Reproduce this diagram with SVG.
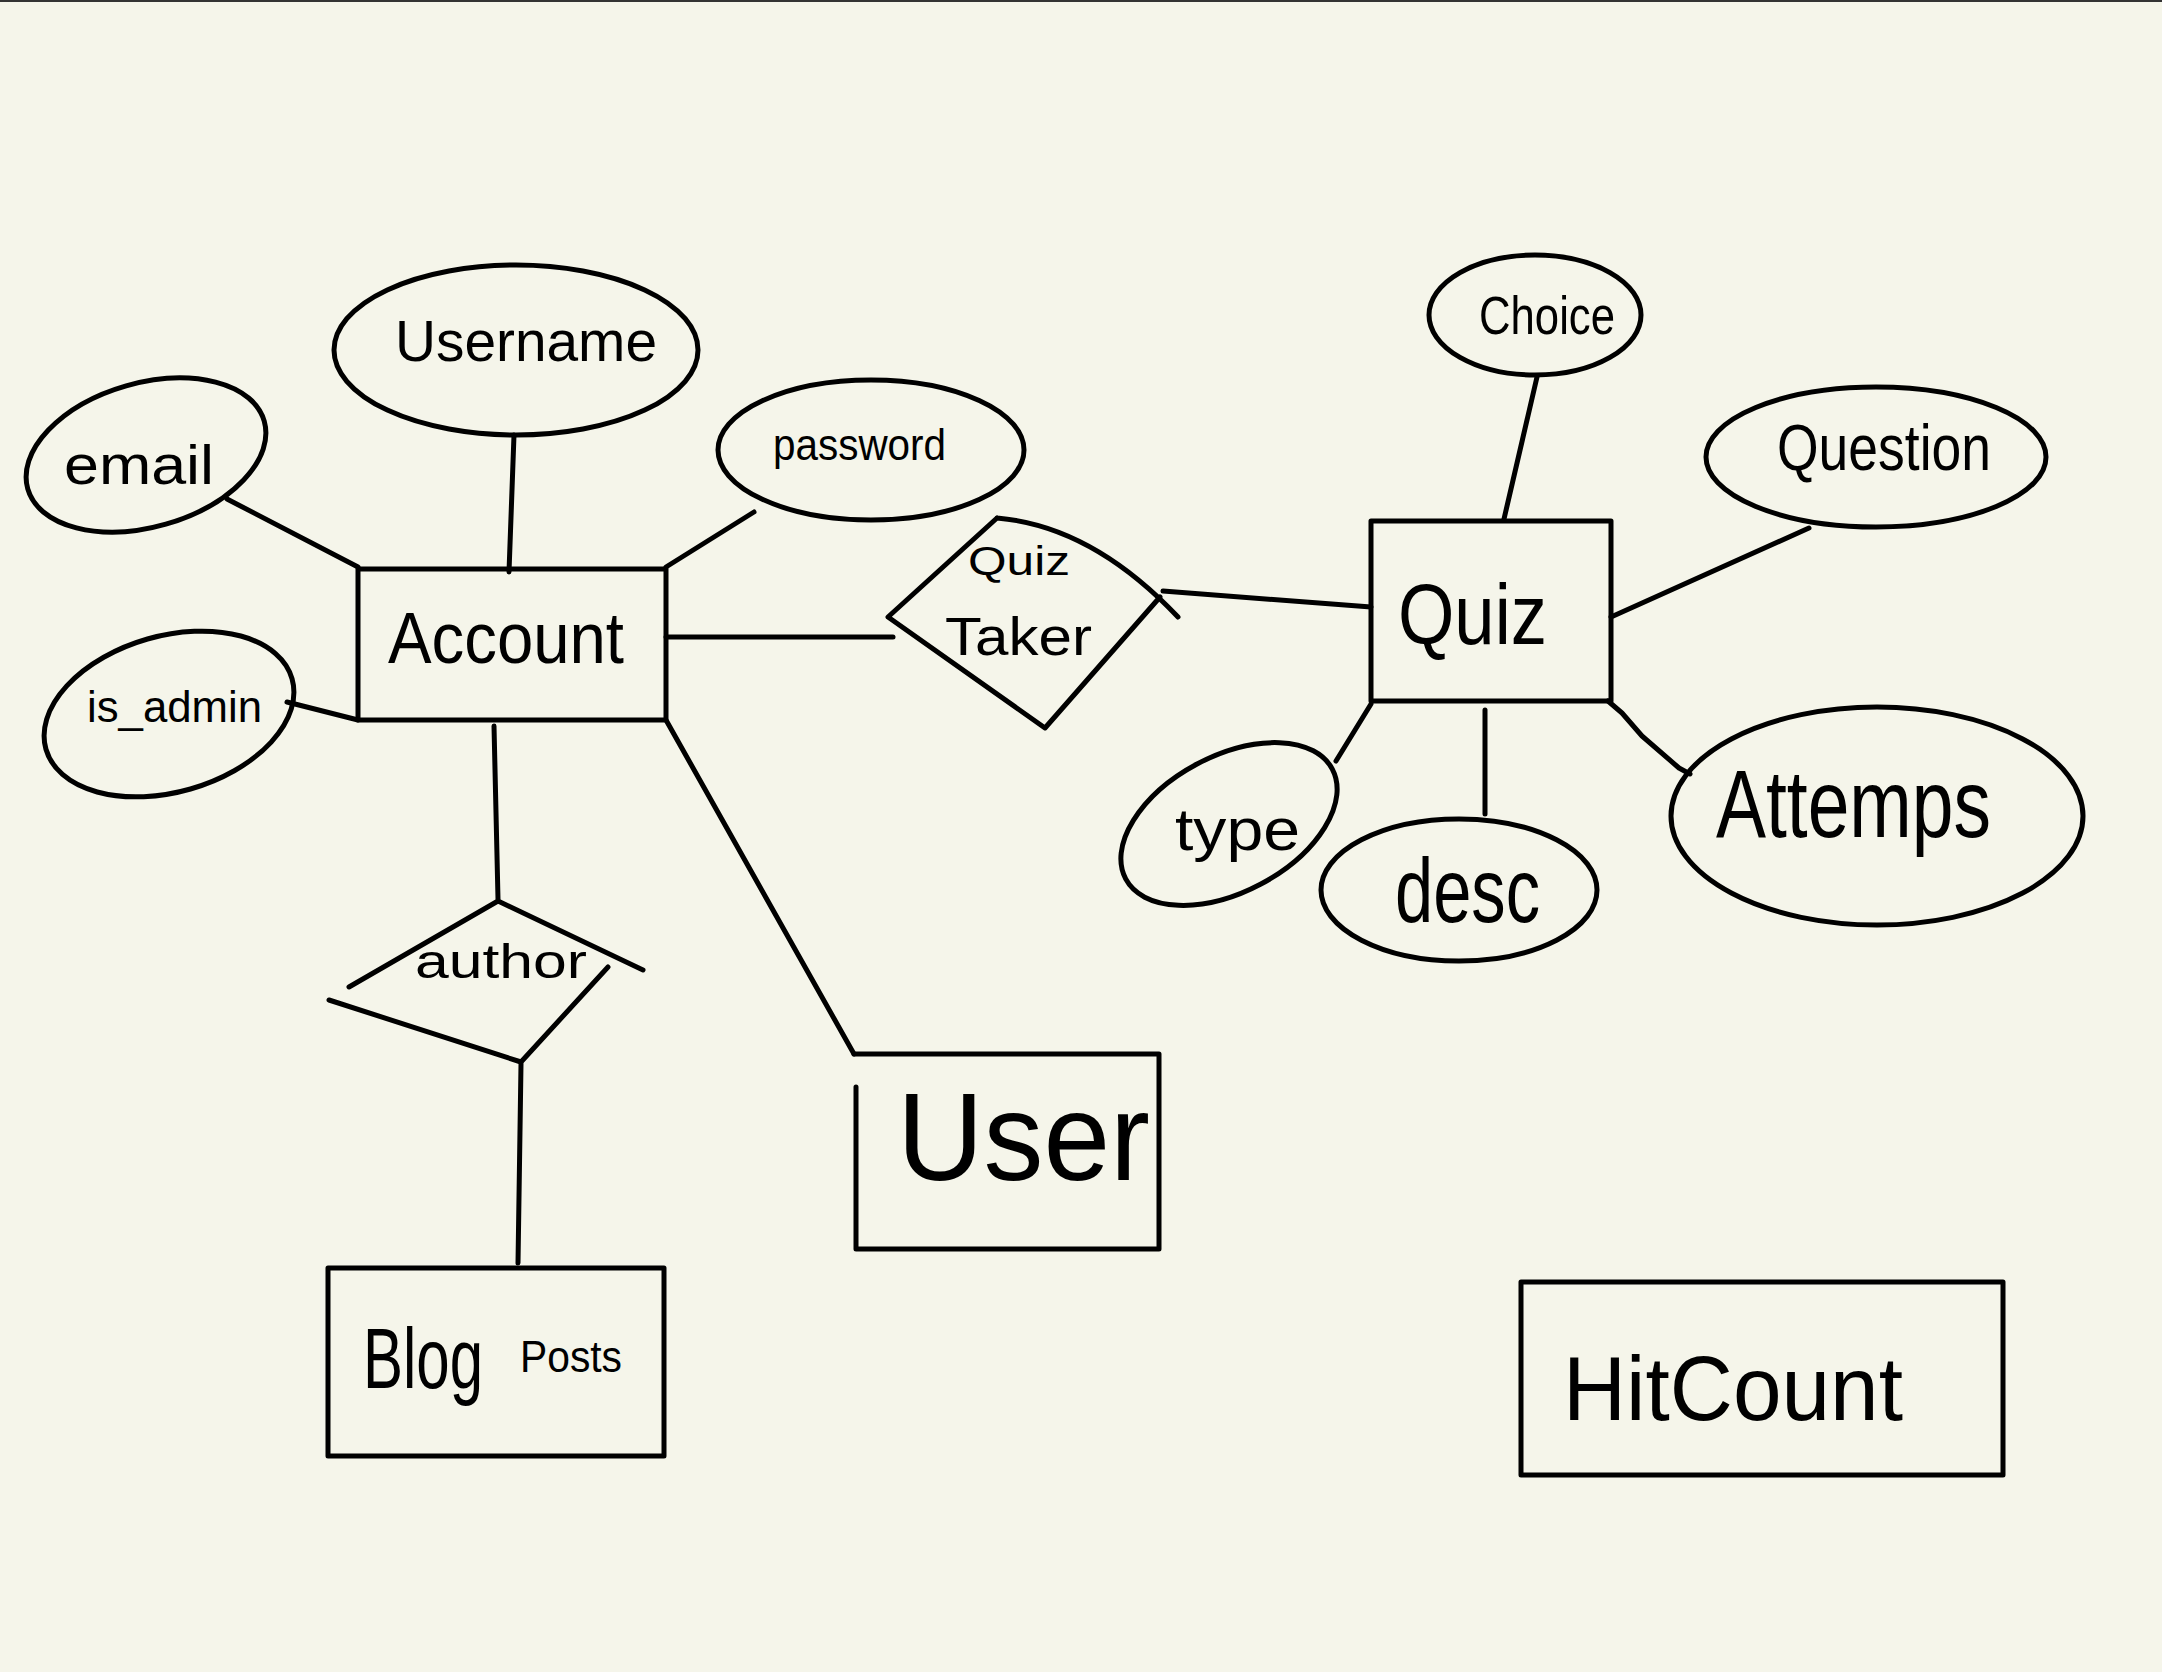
<svg xmlns="http://www.w3.org/2000/svg" width="2162" height="1672" viewBox="0 0 2162 1672">
<style>
.s{fill:none;stroke:#000;stroke-width:5;stroke-linecap:round;stroke-linejoin:round}
.t{font-family:"Liberation Sans","DejaVu Sans",sans-serif;fill:#000}
</style>
<rect x="0" y="0" width="2162" height="1672" fill="#F5F5EA"/>
<line x1="0" y1="1" x2="2162" y2="1" stroke="#333" stroke-width="2"/>
<g id="connectors">
<path class="s" d="M227,499 L358,567"/>
<path class="s" d="M514,435 L509,572"/>
<path class="s" d="M666,567 L754,512"/>
<path class="s" d="M287,702 L358,720"/>
<path class="s" d="M666,637 L893,637"/>
<path class="s" d="M494,726 L498,899"/>
<path class="s" d="M521,1064 L518,1263"/>
<path class="s" d="M666,720 L854,1054"/>
<path class="s" d="M1163,591 L1371,607"/>
<path class="s" d="M1537,377 L1504,519"/>
<path class="s" d="M1809,528 L1611,617"/>
<path class="s" d="M1371,704 L1336,761"/>
<path class="s" d="M1485,710 L1485,814"/>
<path class="s" d="M1608,701 L1622,713 L1642,736 L1679,768 L1690,774"/>
</g>
<g id="account"><rect class="s" x="358" y="569" width="308" height="151"/><text class="t" x="388" y="663" font-size="72" textLength="236" lengthAdjust="spacingAndGlyphs">Account</text></g>
<g id="username"><ellipse class="s" cx="516" cy="350" rx="182" ry="85"/><text class="t" x="395" y="361" font-size="58" textLength="262" lengthAdjust="spacingAndGlyphs">Username</text></g>
<g id="email"><ellipse class="s" cx="146" cy="455" rx="123" ry="72" transform="rotate(-16 146 455)"/><text class="t" x="64" y="484" font-size="56" textLength="150" lengthAdjust="spacingAndGlyphs">email</text></g>
<g id="password"><ellipse class="s" cx="871" cy="450" rx="153" ry="70"/><text class="t" x="773" y="460" font-size="44" textLength="173" lengthAdjust="spacingAndGlyphs">password</text></g>
<g id="is_admin"><ellipse class="s" cx="169" cy="714" rx="128" ry="78" transform="rotate(-16 169 714)"/><text class="t" x="87" y="722" font-size="44" textLength="175" lengthAdjust="spacingAndGlyphs">is_admin</text></g>
<g id="quiz_taker"><path class="s" d="M997,518 Q1092,526 1178,617 M997,518 L888,617 L1045,728 L1160,597"/><text class="t" x="968" y="575" font-size="40" textLength="102" lengthAdjust="spacingAndGlyphs">Quiz</text><text class="t" x="945" y="655" font-size="54" textLength="147" lengthAdjust="spacingAndGlyphs">Taker</text></g>
<g id="author"><path class="s" d="M498,901 L349,987 M498,901 L643,970 M329,1000 L521,1062 L608,967"/><text class="t" x="415" y="978" font-size="48" textLength="172" lengthAdjust="spacingAndGlyphs">author</text></g>
<g id="blog_posts"><rect class="s" x="328" y="1268" width="336" height="188"/><text class="t" x="363" y="1388" font-size="74" textLength="120" lengthAdjust="spacingAndGlyphs" transform="matrix(1,0,0,1.15,0,-208.2)">Blog</text><text class="t" x="520" y="1372" font-size="44" textLength="102" lengthAdjust="spacingAndGlyphs">Posts</text></g>
<g id="user"><path class="s" d="M854,1054 L1159,1054 L1159,1249 L856,1249 L856,1087"/><text class="t" x="897" y="1180" font-size="125" textLength="253" lengthAdjust="spacingAndGlyphs">User</text></g>
<g id="quiz"><rect class="s" x="1371" y="521" width="240" height="180"/><text class="t" x="1398" y="644" font-size="86" textLength="149" lengthAdjust="spacingAndGlyphs">Quiz</text></g>
<g id="choice"><ellipse class="s" cx="1535" cy="315" rx="106" ry="60"/><text class="t" x="1479" y="334" font-size="54" textLength="136" lengthAdjust="spacingAndGlyphs">Choice</text></g>
<g id="question"><ellipse class="s" cx="1876" cy="457" rx="170" ry="70"/><text class="t" x="1777" y="470" font-size="64" textLength="214" lengthAdjust="spacingAndGlyphs">Question</text></g>
<g id="type"><ellipse class="s" cx="1229" cy="824" rx="117" ry="68" transform="rotate(-28 1229 824)"/><text class="t" x="1175" y="850" font-size="60" textLength="125" lengthAdjust="spacingAndGlyphs">type</text></g>
<g id="desc"><ellipse class="s" cx="1459" cy="890" rx="138" ry="71"/><text class="t" x="1395" y="922" font-size="90" textLength="145" lengthAdjust="spacingAndGlyphs">desc</text></g>
<g id="attemps"><ellipse class="s" cx="1877" cy="816" rx="206" ry="109"/><text class="t" x="1716" y="837" font-size="96" textLength="275" lengthAdjust="spacingAndGlyphs">Attemps</text></g>
<g id="hitcount"><rect class="s" x="1521" y="1282" width="482" height="193"/><text class="t" x="1563" y="1420" font-size="90" textLength="340" lengthAdjust="spacingAndGlyphs">HitCount</text></g>
</svg>
